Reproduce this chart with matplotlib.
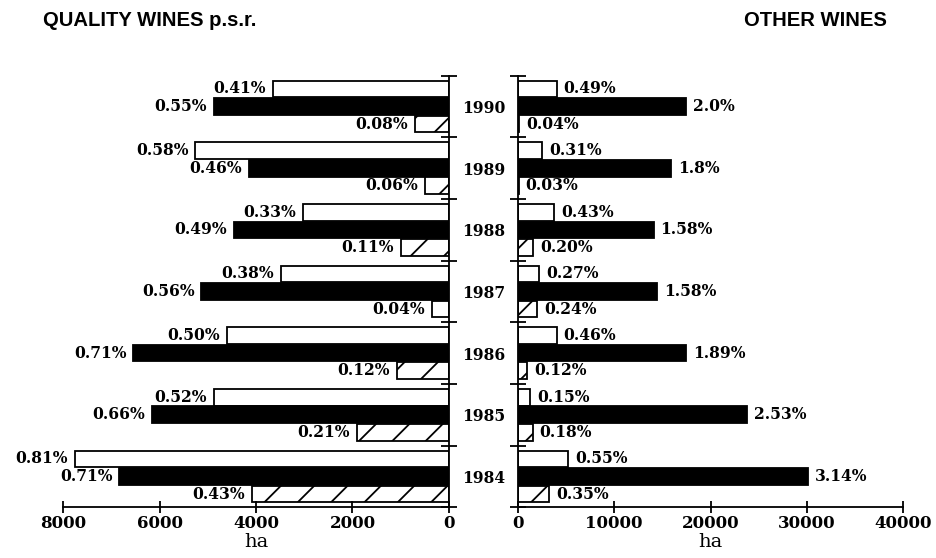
import matplotlib
matplotlib.use("Agg")
import matplotlib.pyplot as plt
import numpy as np

years = ["1984", "1985", "1986", "1987", "1988", "1989", "1990"]

# Quality wines p.s.r. (ha)
q_white = [7750, 4880, 4610, 3480, 3020, 5260, 3650]
q_black = [6830, 6160, 6540, 5130, 4450, 4150, 4880]
q_hatch = [4090, 1910, 1085, 350, 995, 500, 705]
q_white_lbl = ["0.81%", "0.52%", "0.50%", "0.38%", "0.33%", "0.58%", "0.41%"]
q_black_lbl = ["0.71%", "0.66%", "0.71%", "0.56%", "0.49%", "0.46%", "0.55%"]
q_hatch_lbl = ["0.43%", "0.21%", "0.12%", "0.04%", "0.11%", "0.06%", "0.08%"]

# Other wines (ha)
o_white = [5250, 1280, 4050, 2240, 3800, 2550, 4050]
o_black = [30150, 23750, 17430, 14420, 14100, 15900, 17430]
o_hatch = [3280, 1550, 1000, 2030, 1620, 100, 170]
o_white_lbl = ["0.55%", "0.15%", "0.46%", "0.27%", "0.43%", "0.31%", "0.49%"]
o_black_lbl = ["3.14%", "2.53%", "1.89%", "1.58%", "1.58%", "1.8%", "2.0%"]
o_hatch_lbl = ["0.35%", "0.18%", "0.12%", "0.24%", "0.20%", "0.03%", "0.04%"]

q_ticks = [8000, 6000, 4000, 2000, 0]
o_ticks = [0, 10000, 20000, 30000, 40000]

plt.rcParams["hatch.linewidth"] = 1.3
LBL = dict(family="DejaVu Serif", fontweight="bold", fontsize=11.2)
TCK = dict(family="DejaVu Serif", fontweight="bold", fontsize=12)

fig = plt.figure(figsize=(9.36, 5.58), dpi=100)
axL = fig.add_axes([63/936, 1-507.3/558, 386/936, 431.6/558])
axR = fig.add_axes([517.7/936, 1-507.3/558, 385.6/936, 431.6/558])

y = np.arange(len(years))
off = 0.285
h = 0.27
bar_kw = dict(height=h, edgecolor="black", linewidth=1.3)

def draw(ax, white, black, hatch, wl, bl, hl, sign):
    bw = ax.barh(y + off, white, color="white", **bar_kw)
    bb = ax.barh(y, black, color="black", **bar_kw)
    bh = ax.barh(y - off, hatch, color="white", hatch="/", **bar_kw)
    ha = "right" if sign < 0 else "left"
    for bars, labels in ((bw, wl), (bb, bl), (bh, hl)):
        for r, t in zip(bars, labels):
            ax.annotate(t, (r.get_width(), r.get_y() + r.get_height()/2),
                        xytext=(sign*5, 0), textcoords="offset points",
                        ha=ha, va="center", **LBL)

draw(axL, q_white, q_black, q_hatch, q_white_lbl, q_black_lbl, q_hatch_lbl, -1)
draw(axR, o_white, o_black, o_hatch, o_white_lbl, o_black_lbl, o_hatch_lbl, 1)

axL.set_xlim(8000, 0)
axR.set_xlim(0, 40000)
for ax, ticks in ((axL, q_ticks), (axR, o_ticks)):
    ax.set_ylim(-0.5, len(years) - 0.5)
    ax.set_xticks(ticks)
    ax.set_xticklabels([str(t) for t in ticks], **TCK)
    ax.set_xlabel("ha", family="DejaVu Serif", fontsize=14, labelpad=1)
    ax.tick_params(axis="x", direction="inout", length=9, width=1.3, pad=1)
    ax.set_yticks(np.arange(len(years) + 1) - 0.5)
    ax.set_yticklabels([])
    ax.tick_params(axis="y", which="major", direction="inout", length=12, width=1.3)
    ax.spines["top"].set_visible(False)
    for s in ax.spines.values():
        s.set_linewidth(1.3)

axL.spines["left"].set_visible(False)
axL.yaxis.tick_right()
axR.spines["right"].set_visible(False)

axR.set_yticks(y, minor=True)
axR.set_yticklabels(years, minor=True, **LBL)
axR.tick_params(axis="y", which="minor", length=0, pad=9)

fig.text(43/936, 1-20.5/558, "QUALITY WINES p.s.r.", family="Liberation Sans",
         fontweight="bold", fontsize=14.6, va="center", ha="left")
fig.text(887/936, 1-20.5/558, "OTHER WINES", family="Liberation Sans",
         fontweight="bold", fontsize=14.6, va="center", ha="right")

fig.savefig("out.png", dpi=100)
